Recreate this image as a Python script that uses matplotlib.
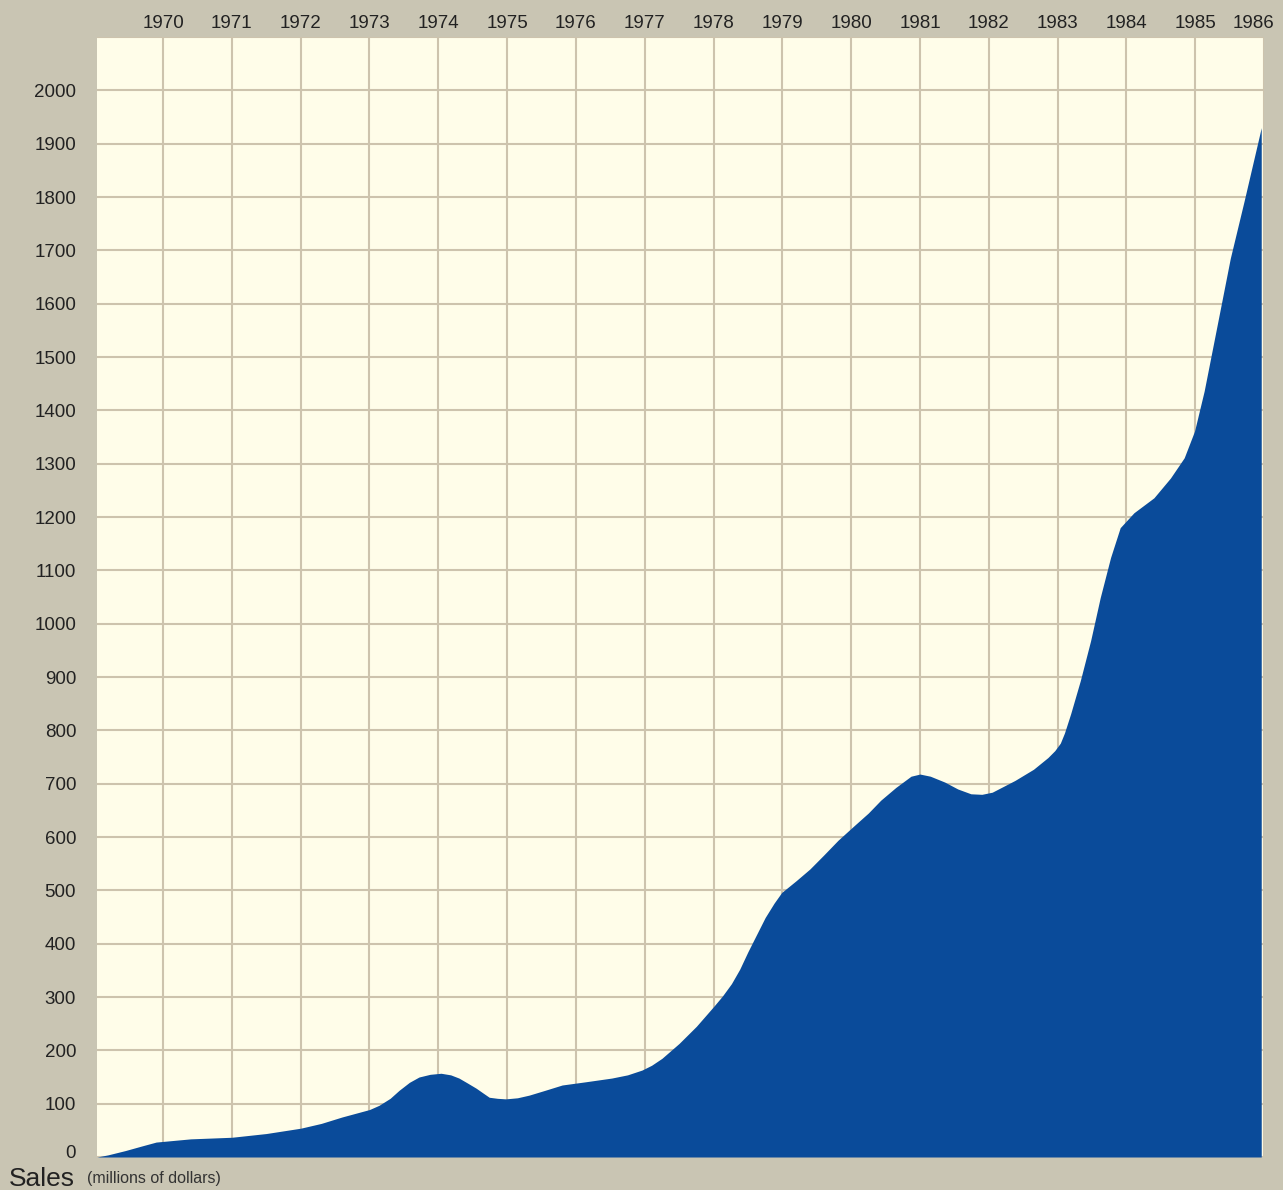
import matplotlib
matplotlib.use("Agg")
import matplotlib.pyplot as plt
import matplotlib.transforms as mtransforms
import numpy as np

plt.rcParams['font.family'] = ['Liberation Sans', 'DejaVu Sans']

# annual sales, millions of dollars
years = [1969.04, 1969.2, 1969.45, 1969.7, 1969.9, 1970.4, 1971.0, 1971.5,
         1972.0, 1972.3, 1972.6, 1973.0, 1973.14, 1973.3, 1973.43, 1973.58,
         1973.72, 1973.88, 1974.04, 1974.18, 1974.3, 1974.42, 1974.55, 1974.65,
         1974.74, 1974.86, 1974.98, 1975.15, 1975.32, 1975.55, 1975.8, 1976.14,
         1976.52, 1976.75, 1976.96, 1977.1, 1977.25, 1977.5, 1977.75, 1978.0,
         1978.13, 1978.26, 1978.38, 1978.5, 1978.75, 1978.88, 1978.99, 1979.2,
         1979.4, 1979.6, 1979.81, 1980.05, 1980.25, 1980.43, 1980.65, 1980.87,
         1981.0, 1981.15, 1981.36, 1981.55, 1981.74, 1981.9, 1982.05, 1982.38,
         1982.65, 1982.86, 1982.96, 1983.04, 1983.1, 1983.19, 1983.33, 1983.48,
         1983.62, 1983.77, 1983.91, 1984.11, 1984.4, 1984.64, 1984.84, 1984.99,
         1985.13, 1985.35, 1985.51, 1985.71, 1985.96]
sales = [0, 4, 12, 21, 28, 34, 37, 44,
         54, 63, 75, 89, 97, 110, 125, 140,
         150, 155, 157, 154, 148, 139, 129, 120,
         112, 110, 109, 111, 116, 125, 135, 141,
         148, 154, 163, 172, 185, 213, 245, 282,
         302, 325, 352, 385, 449, 476, 496, 518,
         540, 566, 594, 622, 645, 669, 693, 714,
         718, 714, 703, 690, 681, 680, 684, 706,
         727, 749, 762, 776, 795, 831, 893, 968,
         1049, 1124, 1180, 1208, 1236, 1273, 1311, 1361,
         1436, 1580, 1685, 1792, 1930]

year_ticks = list(range(1970, 1987))
sales_ticks = list(range(0, 2001, 100))
grid_rows = list(range(0, 2101, 100))

fig = plt.figure(figsize=(12.83, 11.90), dpi=100, facecolor='#c9c5b3')
ax = fig.add_axes([97 / 1283, 33 / 1190, 1167 / 1283, 1120 / 1190])
ax.set_facecolor('#fffde9')

ax.set_xlim(1969.04, 1985.96)
ax.set_ylim(0, 2100)

# grid drawn by hand so it sits under the fill
for yr in year_ticks:
    ax.axvline(yr, color='#cdc3ad', lw=1.5, zorder=1)
for v in grid_rows:
    ax.axhline(v, color='#cdc3ad', lw=1.5, zorder=1)

ax.fill_between(years, sales, 0, color='#0a4b9a', lw=0, zorder=2)

for s in ax.spines.values():
    s.set_visible(False)

ax.xaxis.tick_top()
ax.set_xticks(year_ticks)
ax.set_xticklabels([str(y) for y in year_ticks])
ax.set_yticks(sales_ticks)
ax.set_yticklabels([str(v) for v in sales_ticks])
ax.tick_params(axis='x', length=0, pad=3.5, labelsize=13.5, labelcolor='#222222')
ax.tick_params(axis='y', length=0, pad=15, labelsize=13.5, labelcolor='#222222')

# keep the last year label inside the page
last = ax.get_xticklabels()[-1]
last.set_transform(last.get_transform() + mtransforms.ScaledTranslation(-10 / 100, 0, fig.dpi_scale_trans))
# lift the zero label a little so it clears the "Sales" caption
zero = ax.get_yticklabels()[0]
zero.set_transform(zero.get_transform() + mtransforms.ScaledTranslation(0, 5 / 100, fig.dpi_scale_trans))

fig.text(9 / 1283, 4 / 1190, 'Sales', fontsize=19, color='#222222', ha='left', va='baseline')
fig.text(87 / 1283, 7 / 1190, '(millions of dollars)', fontsize=11.5, color='#333333',
         ha='left', va='baseline')

fig.savefig('out.png', dpi=100, facecolor=fig.get_facecolor())
